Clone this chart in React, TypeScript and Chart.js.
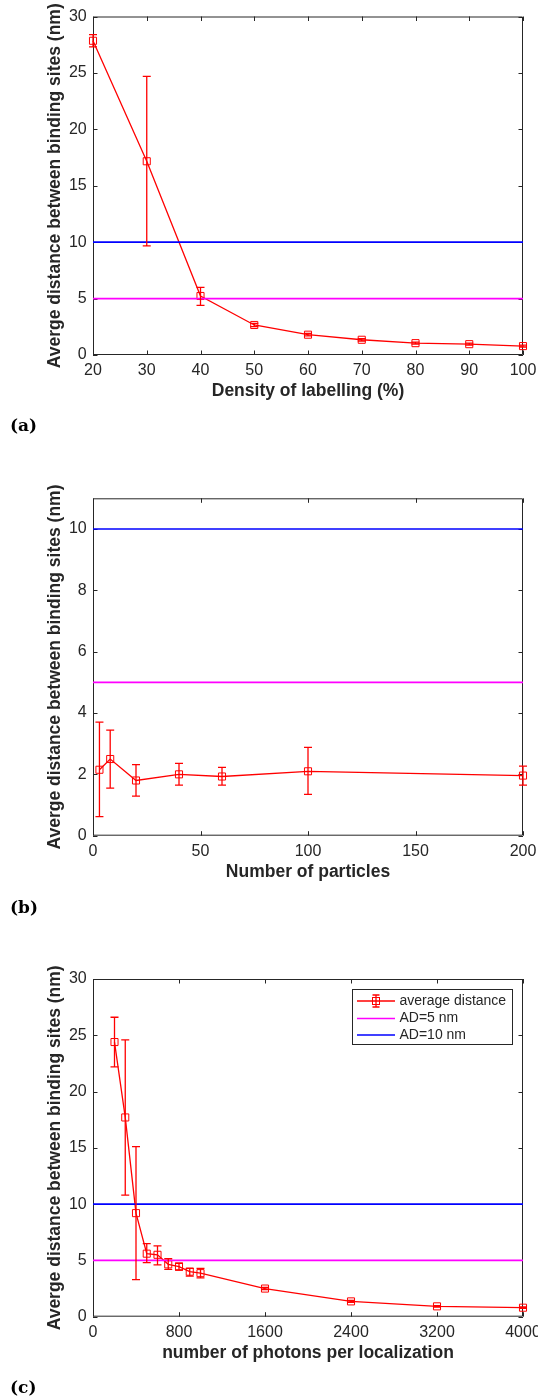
import React, { useEffect, useRef } from 'react';
import { Chart, registerables } from 'chart.js';

Chart.register(...registerables);

// ---------- data ----------
// (a) density of labelling
const densityLabelling = [20, 30, 40, 50, 60, 70, 80, 90, 100];
const densityMean = [27.85, 17.17, 5.23, 2.66, 1.8, 1.35, 1.05, 0.96, 0.79];
const densityLow = [27.3, 9.67, 4.4, 2.52, 1.69, 1.24, 0.96, 0.87, 0.71];
const densityHigh = [28.4, 24.7, 6.0, 2.8, 1.91, 1.46, 1.14, 1.05, 0.87];
const densityRange = [20, 100];
const densityXTicks = [20, 30, 40, 50, 60, 70, 80, 90, 100];
const densityYTicks = [0, 5, 10, 15, 20, 25, 30];

// (b) number of particles
const particles = [3, 8, 20, 40, 60, 100, 200];
const particlesMean = [2.15, 2.5, 1.8, 2.0, 1.93, 2.1, 1.96];
const particlesLow = [0.62, 1.55, 1.29, 1.65, 1.65, 1.35, 1.65];
const particlesHigh = [3.7, 3.44, 2.32, 2.36, 2.23, 2.88, 2.27];
const particlesRange = [0, 200];
const particlesXTicks = [0, 50, 100, 150, 200];
const particlesYTicks = [0, 2, 4, 6, 8, 10];

// (c) number of photons per localization
const photons = [200, 300, 400, 500, 600, 700, 800, 900, 1000, 1600, 2400, 3200, 4000];
const photonsMean = [24.4, 17.7, 9.2, 5.6, 5.5, 4.65, 4.45, 4.0, 3.87, 2.5, 1.36, 0.92, 0.8];
const photonsLow = [22.2, 10.8, 3.3, 4.8, 4.6, 4.2, 4.15, 3.6, 3.45, 2.4, 1.28, 0.86, 0.74];
const photonsHigh = [26.6, 24.6, 15.1, 6.5, 6.3, 5.15, 4.75, 4.3, 4.3, 2.6, 1.44, 0.98, 0.86];
const photonsRange = [0, 4000];
const photonsXTicks = [0, 800, 1600, 2400, 3200, 4000];
const photonsYTicks = [0, 5, 10, 15, 20, 25, 30];

// reference levels
const refLevels = [5, 10];
const seriesLabels = ['average distance', 'AD=5 nm', 'AD=10 nm'];

// ---------- styles ----------
const AXIS_COLOR = '#262626';
const RED = '#ff0000';
const MAGENTA = '#ff00ff';
const BLUE = '#0000ff';
const FONT = '"Liberation Sans", Arial, Helvetica, sans-serif';
const Y_TITLE = 'Averge distance between binding sites (nm)';

const boxPlugin = {
  id: 'matlabBox',
  beforeDatasetsDraw(chart: any) {
    const { ctx, chartArea } = chart;
    const { left, right, top, bottom } = chartArea;
    const xs = chart.scales.x;
    const ys = chart.scales.y;
    const tl = 4.5;
    ctx.save();
    ctx.strokeStyle = AXIS_COLOR;
    ctx.lineWidth = 1;
    ctx.beginPath();
    ctx.rect(left + 0.5, top + 0.5, right - left - 1, bottom - top - 1);
    xs.ticks.forEach((t: any) => {
      const px = Math.round(xs.getPixelForValue(t.value)) + 0.5;
      ctx.moveTo(px, bottom);
      ctx.lineTo(px, bottom - tl);
      ctx.moveTo(px, top);
      ctx.lineTo(px, top + tl);
    });
    ys.ticks.forEach((t: any) => {
      const py = Math.round(ys.getPixelForValue(t.value)) + 0.5;
      ctx.moveTo(left, py);
      ctx.lineTo(left + tl, py);
      ctx.moveTo(right, py);
      ctx.lineTo(right - tl, py);
    });
    ctx.stroke();
    ctx.restore();
  },
};

const errorBarPlugin = {
  id: 'errorBars',
  afterDatasetsDraw(chart: any) {
    const { ctx } = chart;
    const ys = chart.scales.y;
    const cap = 4;
    chart.data.datasets.forEach((ds: any, i: number) => {
      if (!ds.errLow) return;
      const meta = chart.getDatasetMeta(i);
      ctx.save();
      ctx.strokeStyle = ds.borderColor;
      ctx.lineWidth = 1.3;
      ctx.beginPath();
      meta.data.forEach((pt: any, j: number) => {
        const x = pt.x;
        const yl = ys.getPixelForValue(ds.errLow[j]);
        const yh = ys.getPixelForValue(ds.errHigh[j]);
        ctx.moveTo(x, yl);
        ctx.lineTo(x, yh);
        ctx.moveTo(x - cap, yl);
        ctx.lineTo(x + cap, yl);
        ctx.moveTo(x - cap, yh);
        ctx.lineTo(x + cap, yh);
      });
      ctx.stroke();
      ctx.restore();
    });
  },
};

const insideLegendPlugin = {
  id: 'insideLegend',
  afterDraw(chart: any) {
    const { ctx, chartArea } = chart;
    const w = 160;
    const h = 55;
    const bx = chartArea.right - 11 - w;
    const by = chartArea.top + 10;
    ctx.save();
    ctx.fillStyle = '#ffffff';
    ctx.fillRect(bx, by, w, h);
    ctx.strokeStyle = AXIS_COLOR;
    ctx.lineWidth = 1;
    ctx.strokeRect(Math.round(bx) + 0.5, Math.round(by) + 0.5, w, h);
    const rows = [12, 29.5, 46];
    ctx.font = `14px ${FONT}`;
    ctx.textBaseline = 'middle';
    ctx.textAlign = 'left';
    chart.data.datasets.forEach((ds: any, i: number) => {
      const ry = by + rows[i];
      const x0 = bx + 5;
      const x1 = bx + 43;
      ctx.strokeStyle = ds.borderColor;
      ctx.lineWidth = ds.borderWidth;
      ctx.beginPath();
      ctx.moveTo(x0, ry);
      ctx.lineTo(x1, ry);
      ctx.stroke();
      if (ds.errLow) {
        const cx = (x0 + x1) / 2;
        ctx.lineWidth = 1.3;
        ctx.beginPath();
        ctx.moveTo(cx, ry - 6);
        ctx.lineTo(cx, ry + 6);
        ctx.moveTo(cx - 3.5, ry - 6);
        ctx.lineTo(cx + 3.5, ry - 6);
        ctx.moveTo(cx - 3.5, ry + 6);
        ctx.lineTo(cx + 3.5, ry + 6);
        ctx.stroke();
        ctx.lineWidth = 1;
        ctx.strokeRect(cx - 3.5, ry - 3.5, 7, 7);
      }
      ctx.fillStyle = AXIS_COLOR;
      ctx.fillText(ds.label, bx + 47.5, ry);
    });
    ctx.restore();
  },
};

type Panel = {
  xs: number[];
  mean: number[];
  low: number[];
  high: number[];
  range: number[];
  xTicks: number[];
  yTicks: number[];
  yMax: number;
  xTitle: string;
  padTop: number;
  padBottom: number;
  legend: boolean;
};

function makeConfig(p: Panel): any {
  const tickFont = { family: FONT, size: 16, lineHeight: 1.2 };
  const titleFont = { family: FONT, size: 17.5, weight: 'bold', lineHeight: 1.2 };
  const plugins: any[] = [boxPlugin, errorBarPlugin];
  if (p.legend) plugins.push(insideLegendPlugin);
  return {
    type: 'line',
    data: {
      datasets: [
        {
          label: seriesLabels[0],
          data: p.xs.map((x, i) => ({ x, y: p.mean[i] })),
          errLow: p.low,
          errHigh: p.high,
          borderColor: RED,
          borderWidth: 1.3,
          pointStyle: 'rect',
          pointRadius: 5,
          pointBorderWidth: 1,
          pointBorderColor: RED,
          pointBackgroundColor: 'rgba(0,0,0,0)',
          tension: 0,
          clip: false,
          order: 3,
        },
        {
          label: seriesLabels[1],
          data: p.range.map((x) => ({ x, y: refLevels[0] })),
          borderColor: MAGENTA,
          borderWidth: 1.7,
          pointRadius: 0,
          order: 2,
        },
        {
          label: seriesLabels[2],
          data: p.range.map((x) => ({ x, y: refLevels[1] })),
          borderColor: BLUE,
          borderWidth: 1.6,
          pointRadius: 0,
          order: 1,
        },
      ],
    },
    options: {
      responsive: false,
      animation: false,
      events: [],
      layout: { padding: { left: 45, right: 15, top: p.padTop, bottom: p.padBottom } },
      plugins: { legend: { display: false }, tooltip: { enabled: false } },
      scales: {
        x: {
          type: 'linear',
          min: p.range[0],
          max: p.range[1],
          afterBuildTicks: (s: any) => {
            s.ticks = p.xTicks.map((v) => ({ value: v }));
          },
          afterFit: (s: any) => {
            s.height = 46.5;
            s.paddingLeft = 0;
            s.paddingRight = 0;
          },
          grid: { display: false, drawTicks: false },
          border: { display: false },
          ticks: {
            color: AXIS_COLOR,
            font: tickFont,
            padding: 6,
            maxRotation: 0,
            autoSkip: false,
            callback: (v: any) => String(v),
          },
          title: { display: true, text: p.xTitle, color: AXIS_COLOR, font: titleFont, padding: 0 },
        },
        y: {
          type: 'linear',
          min: 0,
          max: p.yMax,
          afterBuildTicks: (s: any) => {
            s.ticks = p.yTicks.map((v) => ({ value: v }));
          },
          afterFit: (s: any) => {
            s.width = 48;
            s.paddingTop = 0;
            s.paddingBottom = 0;
          },
          grid: { display: false, drawTicks: false },
          border: { display: false },
          ticks: {
            color: AXIS_COLOR,
            font: tickFont,
            padding: 6.3,
            autoSkip: false,
            callback: (v: any) => String(v),
          },
          title: { display: true, text: Y_TITLE, color: AXIS_COLOR, font: titleFont, padding: 0 },
        },
      },
    },
    plugins,
  };
}

const panels: Panel[] = [
  {
    xs: densityLabelling, mean: densityMean, low: densityLow, high: densityHigh,
    range: densityRange, xTicks: densityXTicks, yTicks: densityYTicks, yMax: 30,
    xTitle: 'Density of labelling (%)', padTop: 16.5, padBottom: 38.5, legend: false,
  },
  {
    xs: particles, mean: particlesMean, low: particlesLow, high: particlesHigh,
    range: particlesRange, xTicks: particlesXTicks, yTicks: particlesYTicks, yMax: 11,
    xTitle: 'Number of particles', padTop: 38.3, padBottom: 37.8, legend: false,
  },
  {
    xs: photons, mean: photonsMean, low: photonsLow, high: photonsHigh,
    range: photonsRange, xTicks: photonsXTicks, yTicks: photonsYTicks, yMax: 30,
    xTitle: 'number of photons per localization', padTop: 39, padBottom: 35.8, legend: true,
  },
];

const canvasTops = [0, 460, 940];
const canvasHeights = [440, 460, 459];
const panelTags = ['(a)', '(b)', '(c)'];
const tagTops = [415, 897, 1377];

function ChartCanvas({ panel, top, height }: { panel: Panel; top: number; height: number }) {
  const ref = useRef<HTMLCanvasElement | null>(null);
  useEffect(() => {
    if (!ref.current) return;
    const chart = new Chart(ref.current, makeConfig(panel));
    return () => chart.destroy();
  }, [panel]);
  return (
    <canvas
      ref={ref}
      width={538}
      height={height}
      style={{ position: 'absolute', left: 0, top, width: 538, height }}
    />
  );
}

export default function App() {
  return (
    <div style={{ position: 'absolute', left: 0, top: 0, width: 538, height: 1399, background: '#ffffff' }}>
      {panels.map((p, i) => (
        <ChartCanvas key={i} panel={p} top={canvasTops[i]} height={canvasHeights[i]} />
      ))}
      {panelTags.map((t, i) => (
        <div
          key={t}
          style={{
            position: 'absolute',
            left: 10,
            top: tagTops[i],
            fontFamily: '"DejaVu Serif", serif',
            fontWeight: 'bold',
            fontSize: 17,
            lineHeight: '20px',
            color: '#000',
          }}
        >
          {t}
        </div>
      ))}
    </div>
  );
}
